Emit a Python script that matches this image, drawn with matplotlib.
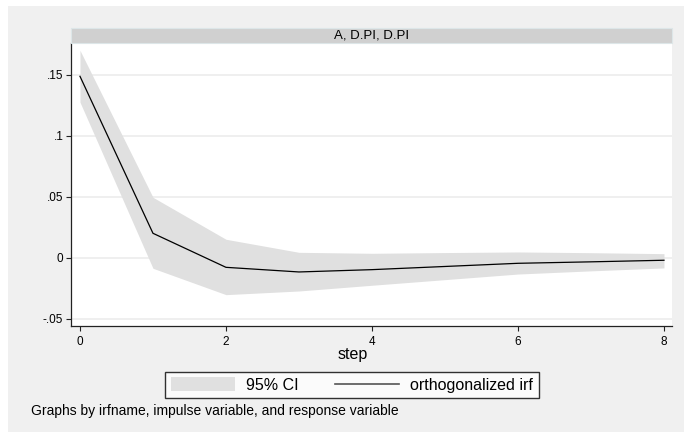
import numpy as np
import matplotlib
matplotlib.use("Agg")
import matplotlib.pyplot as plt
from matplotlib.patches import Rectangle

plt.rcParams['font.family'] = ['Liberation Sans', 'DejaVu Sans']

# impulse response
steps = [0, 1, 2, 3, 4, 5, 6, 7, 8]
irf = [0.1487, 0.0200, -0.0079, -0.0117, -0.0098, -0.0072, -0.0046, -0.0034, -0.0021]
ci_upper = [0.1700, 0.0495, 0.0151, 0.0044, 0.0036, 0.0042, 0.0047, 0.0041, 0.0033]
ci_lower = [0.1275, -0.0087, -0.0303, -0.0273, -0.0226, -0.0180, -0.0134, -0.0108, -0.0084]

yticks = [-0.05, 0, 0.05, 0.1, 0.15]
ytick_labels = ['-.05', '0', '.05', '.1', '.15']
xticks = [0, 2, 4, 6, 8]

W, H = 684, 432
fig = plt.figure(figsize=(W / 100, H / 100), dpi=100)
fig.patch.set_facecolor('white')
# outer grey area
fig.patches.append(Rectangle((8 / W, 0), 1 - 8 / W, 1 - 6 / H, transform=fig.transFigure,
                             facecolor='#f0f0f0', edgecolor='none', zorder=-10))

left, right, top, bottom = 71, 672, 43, 326
ax = fig.add_axes([left / W, 1 - bottom / H, (right - left) / W, (bottom - top) / H])
ax.set_facecolor('white')

ax.fill_between(steps, ci_lower, ci_upper, color='#e0e0e0', linewidth=0, label='95% CI')
ax.plot(steps, irf, color='black', linewidth=0.9, label='orthogonalized irf')

ax.set_xlim(-0.123, 8.11)
ax.set_ylim(-0.056, 0.176)
ax.set_yticks(yticks)
ax.set_yticklabels(ytick_labels)
ax.set_xticks(xticks)
ax.grid(axis='y', color='#ececec', linewidth=1.2)
ax.set_axisbelow(True)
for s in ['top', 'right']:
    ax.spines[s].set_visible(False)
for s in ['left', 'bottom']:
    ax.spines[s].set_color('#222222')
    ax.spines[s].set_linewidth(0.9)
ax.tick_params(axis='both', length=3.5, width=0.8, color='#222222', labelsize=8.5)
ax.tick_params(axis='x', pad=3.5)
ax.tick_params(axis='y', pad=2)

# panel title strip
fig.patches.append(Rectangle((left / W, 1 - top / H), (right - left) / W, 15 / H,
                             transform=fig.transFigure, facecolor='#d0d0d0',
                             edgecolor='#dde6e8', linewidth=0.8))
fig.text((left + right) / 2 / W, 1 - 35.5 / H, 'A, D.PI, D.PI', ha='center', va='center',
         fontsize=9.5)

fig.text(352.5 / W, 1 - 355 / H, 'step', ha='center', va='center', fontsize=11.5)

leg = fig.legend(loc='center', bbox_to_anchor=(352 / W, 1 - 385 / H), ncol=2,
                 fontsize=11.5, frameon=True, fancybox=False, edgecolor='black',
                 handlelength=4, handleheight=0.9, handletextpad=0.7,
                 columnspacing=2.3, borderpad=0.35, borderaxespad=0)
leg.get_frame().set_linewidth(1.0)
leg.get_frame().set_facecolor('white')
leg.legend_handles[1].set_color('#555555')
leg.legend_handles[1].set_linewidth(1.2)

fig.text(31 / W, 1 - 411 / H, 'Graphs by irfname, impulse variable, and response variable',
         ha='left', va='center', fontsize=10)

fig.savefig('out.png', dpi=100)
